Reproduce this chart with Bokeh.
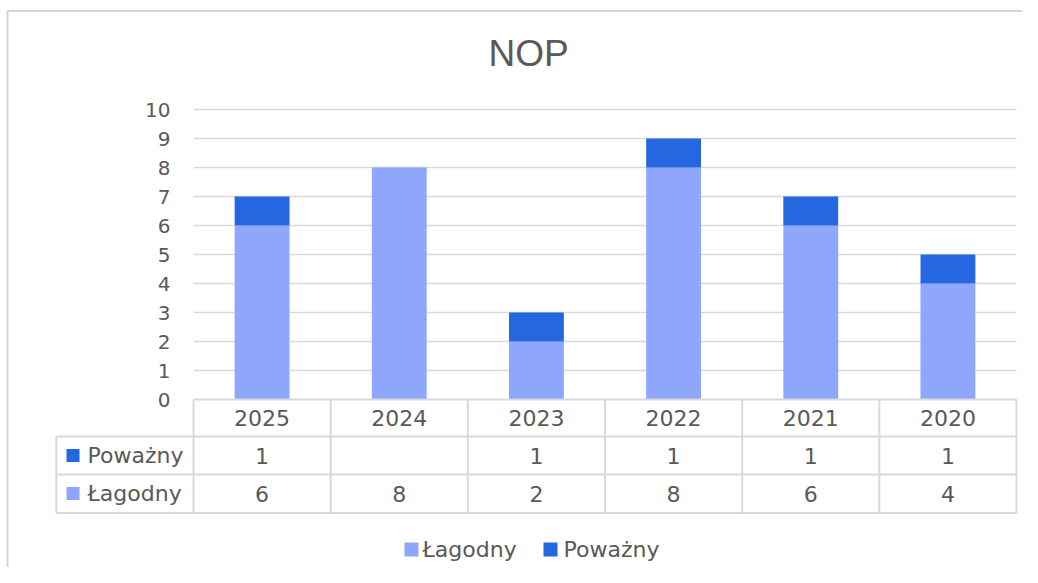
from bokeh.plotting import figure
from bokeh.models import ColumnDataSource, Range1d
from bokeh.core.properties import value
from bokeh.embed import file_html
from bokeh.resources import INLINE

title = "NOP"
years = ["2025", "2024", "2023", "2022", "2021", "2020"]
lagodny = [6, 8, 2, 8, 6, 4]
powazny = [1, None, 1, 1, 1, 1]
series_names = ["Łagodny", "Poważny"]
y_ticks = list(range(0, 11))

C_LIGHT = "#8EA6FB"
C_DARK = "#2566E1"
TXT = "#595959"
GRID = "#D9D9D9"
FONT = "DejaVu Sans"

W, H = 1022, 567
UX = 137.17   # px per category
UY = 29.0     # px per value unit
X0, Y0 = 193.0, 399.0  # px position of x=0, y=0


def fx(px):
    return (px - X0) / UX


def fy(py):
    return (Y0 - py) / UY


p = figure(width=W, height=H, output_backend="svg", toolbar_location=None,
           x_range=Range1d(fx(0), fx(W)), y_range=Range1d(fy(H), fy(0)),
           min_border=0, min_border_left=0, min_border_right=0,
           min_border_top=0, min_border_bottom=0)
p.axis.visible = False
p.grid.visible = False
p.outline_line_color = None
p.background_fill_color = "white"
p.border_fill_color = "white"

n = len(years)
xs = [i + 0.5 for i in range(n)]
pow_vals = [v if v is not None else 0 for v in powazny]
src = ColumnDataSource(dict(x=xs, lag=lagodny, pow=pow_vals,
                            top2=[a + b for a, b in zip(lagodny, pow_vals)]))

# outer border (top and left)
p.segment(x0=[fx(7)], y0=[fy(10.5)], x1=[fx(W)], y1=[fy(10.5)],
          line_color="#D4D4D4", line_width=2)
p.segment(x0=[fx(7)], y0=[fy(H)], x1=[fx(7)], y1=[fy(10.5)],
          line_color="#D4D4D4", line_width=2)

# gridlines
p.segment(x0=[0] * 10, y0=y_ticks[1:], x1=[n] * 10, y1=y_ticks[1:],
          line_color=GRID, line_width=1.6)

# bars
p.vbar(x="x", bottom=0, top="lag", width=0.40, source=src, fill_color=C_LIGHT, line_color=None)
p.vbar(x="x", bottom="lag", top="top2", width=0.40, source=src, fill_color=C_DARK, line_color=None)

# y tick labels
p.text(x=[fx(170)] * len(y_ticks), y=y_ticks, text=[str(t) for t in y_ticks],
       text_align="right", text_baseline="middle", text_color=TXT,
       text_font=value(FONT), text_font_size="20px")

# table lines
r1, r2, r3 = fy(436), fy(474), fy(512.5)
p.segment(x0=[0, -1, -1, -1], y0=[0, r1, r2, r3], x1=[n] * 4, y1=[0, r1, r2, r3],
          line_color=GRID, line_width=2)
p.segment(x0=[-1] + list(range(n + 1)), y0=[r1] + [0] * (n + 1),
          x1=[-1] + list(range(n + 1)), y1=[r3] * (n + 2),
          line_color=GRID, line_width=2)

# table text
p.text(x=xs, y=[fy(417)] * n, text=years, text_align="center", text_baseline="middle",
       text_color=TXT, text_font=value(FONT), text_font_size="22px")
p.text(x=xs, y=[fy(455)] * n, text=["" if v is None else str(v) for v in powazny],
       text_align="center", text_baseline="middle",
       text_color=TXT, text_font=value(FONT), text_font_size="22px")
p.text(x=xs, y=[fy(493)] * n, text=[str(v) for v in lagodny],
       text_align="center", text_baseline="middle",
       text_color=TXT, text_font=value(FONT), text_font_size="22px")

# row legend keys
p.scatter(x=[fx(72.5)] * 2, y=[fy(455), fy(493)], marker="square",
          size=13, fill_color=[C_DARK, C_LIGHT], line_color=None)
p.text(x=[fx(87)] * 2, y=[fy(455), fy(493)],
       text=[series_names[1], series_names[0]], text_align="left", text_baseline="middle",
       text_color=TXT, text_font=value(FONT), text_font_size="22px")

# bottom legend
ly = fy(549)
p.scatter(x=[fx(411), fx(550)], y=[ly, ly], marker="square",
          size=14, fill_color=[C_LIGHT, C_DARK], line_color=None)
p.text(x=[fx(422), fx(563)], y=[ly, ly], text=series_names,
       text_align="left", text_baseline="middle",
       text_color=TXT, text_font=value(FONT), text_font_size="22px")

# title
p.text(x=[fx(528)], y=[fy(53)], text=[title], text_align="center",
       text_baseline="middle", text_color=TXT, text_font=value("Liberation Sans"),
       text_font_size="37px")

open("out.html", "w").write(file_html(p, INLINE))
